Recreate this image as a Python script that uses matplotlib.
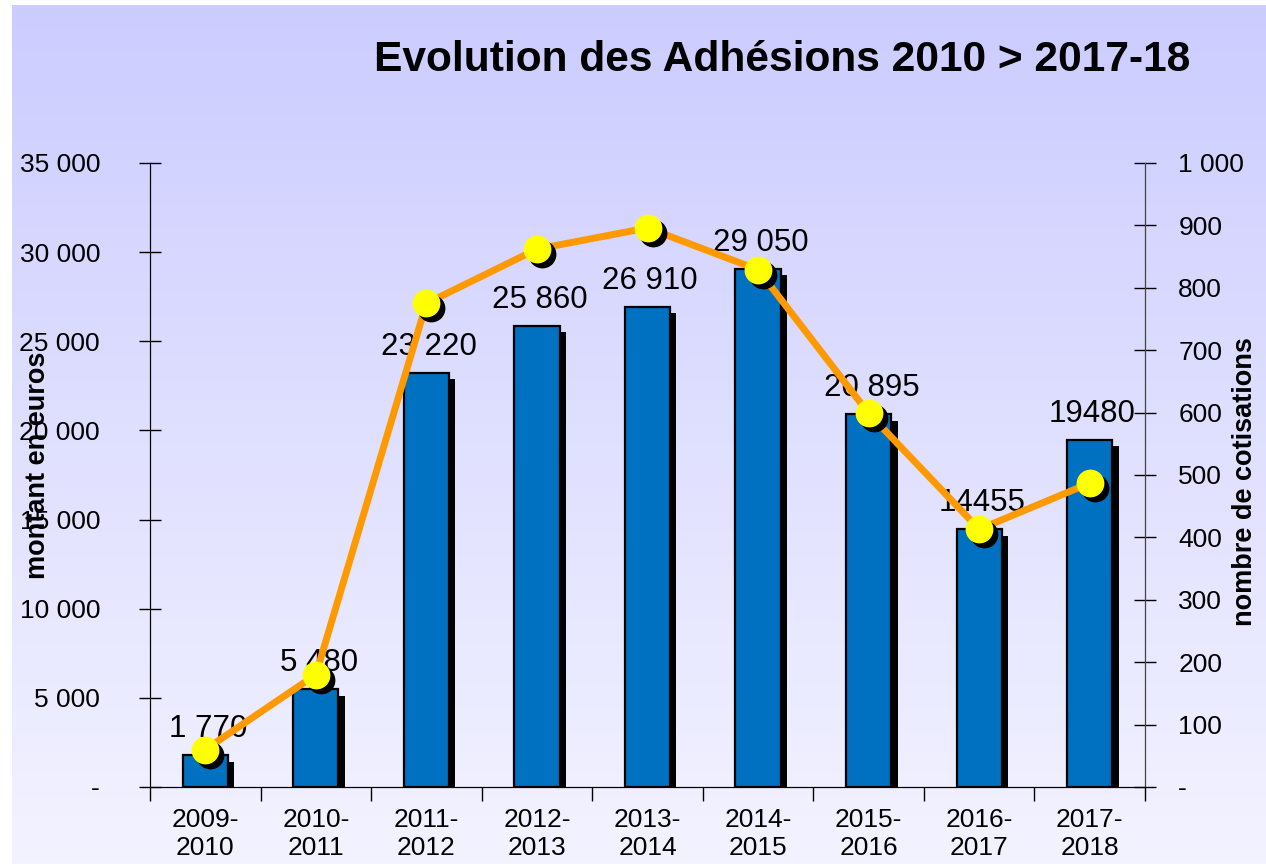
import matplotlib.pyplot as plt
import numpy as np
from matplotlib import patheffects as pe
from matplotlib.transforms import offset_copy
from matplotlib.ticker import FuncFormatter, MultipleLocator, FixedLocator

# donnees
saisons = ["2009-\n2010", "2010-\n2011", "2011-\n2012", "2012-\n2013", "2013-\n2014",
           "2014-\n2015", "2015-\n2016", "2016-\n2017", "2017-\n2018"]
montants = [1770, 5480, 23220, 25860, 26910, 29050, 20895, 14455, 19480]
etiquettes = ["1 770", "5 480", "23 220", "25 860", "26 910", "29 050", "20 895", "14455", "19480"]
cotisations = [60, 180, 775, 862, 896, 829, 599, 413, 487]

plt.rcParams['font.family'] = ['Liberation Sans', 'DejaVu Sans']

fig = plt.figure(figsize=(12.66, 8.64), dpi=100)
fig.patch.set_facecolor('white')

# fond degrade (mauve clair -> presque blanc)
bg = fig.add_axes([12 / 1266, 0, 1 - 12 / 1266, 859 / 864])
haut = np.array([0xCC, 0xCC, 0xFF]) / 255
bas = np.array([0xF3, 0xF3, 0xFF]) / 255
t = np.linspace(0, 1, 256).reshape(-1, 1, 1)
bg.imshow(haut + (bas - haut) * t, aspect='auto', extent=[0, 1, 0, 1])
bg.axis('off')


def fmt(v, p):
    if v == 0:
        return '-'
    return f'{int(v):,}'.replace(',', ' ')


ax = fig.add_axes([150 / 1266, 77 / 864, 995 / 1266, 624 / 864])
ax.set_facecolor('none')
x = np.arange(len(saisons))

ax.bar(x, montants, width=0.41, color='#0070C0', edgecolor='black', linewidth=1.6,
       path_effects=[pe.SimplePatchShadow(offset=(4.5, -4.5), shadow_rgbFace='black', alpha=1),
                     pe.Normal()], zorder=2)
for i, v in enumerate(montants):
    ax.annotate(etiquettes[i], (x[i], v), xytext=(2, 13), textcoords='offset points',
                ha='center', va='baseline', fontsize=22.5, zorder=3)

ax.set_xlim(-0.5, len(saisons) - 0.5)
ax.set_ylim(0, 35000)
ax.yaxis.set_major_locator(MultipleLocator(5000))
ax.yaxis.set_major_formatter(FuncFormatter(fmt))
ax.tick_params(axis='y', direction='inout', length=16, width=1, labelsize=19, pad=28)

ax.xaxis.set_major_locator(FixedLocator(np.arange(-0.5, len(saisons), 1.0)))
ax.xaxis.set_major_formatter(FuncFormatter(lambda v, p: ''))
ax.xaxis.set_minor_locator(FixedLocator(x))
ax.set_xticklabels(saisons, minor=True)
ax.tick_params(axis='x', which='major', direction='out', length=10, width=1)
ax.tick_params(axis='x', which='minor', length=0, labelsize=19, pad=15)
ax.spines['top'].set_visible(False)

ax2 = ax.twinx()
ax2.set_ylim(0, 1000)
ax2.yaxis.set_major_locator(MultipleLocator(100))
ax2.yaxis.set_major_formatter(FuncFormatter(fmt))
ax2.tick_params(axis='y', direction='inout', length=16, width=1, labelsize=19, pad=16)
ax2.spines['top'].set_visible(False)
ax2.spines['right'].set_color('#444444')

ax2.plot(x, cotisations, color='#FF9900', lw=5, zorder=2, solid_capstyle='round')
ax2.plot(x, cotisations, 'o', ms=19, color='black', zorder=3,
         transform=offset_copy(ax2.transData, fig=fig, x=5, y=-5, units='dots'))
ax2.plot(x, cotisations, 'o', ms=19, mfc='#FFFF00', mec='#FFFF00', zorder=4)

fig.text(782 / 1266, 1 - 60 / 864, 'Evolution des Adhésions 2010 > 2017-18',
         fontsize=30.6, fontweight='bold', ha='center', va='center')
fig.text(38 / 1266, 1 - 465 / 864, 'montant en euros', rotation=90,
         fontsize=19.5, fontweight='bold', ha='center', va='center')
fig.text(1245 / 1266, 1 - 482 / 864, 'nombre de cotisations', rotation=90,
         fontsize=19.5, fontweight='bold', ha='center', va='center')

fig.savefig('out.png', dpi=100)
